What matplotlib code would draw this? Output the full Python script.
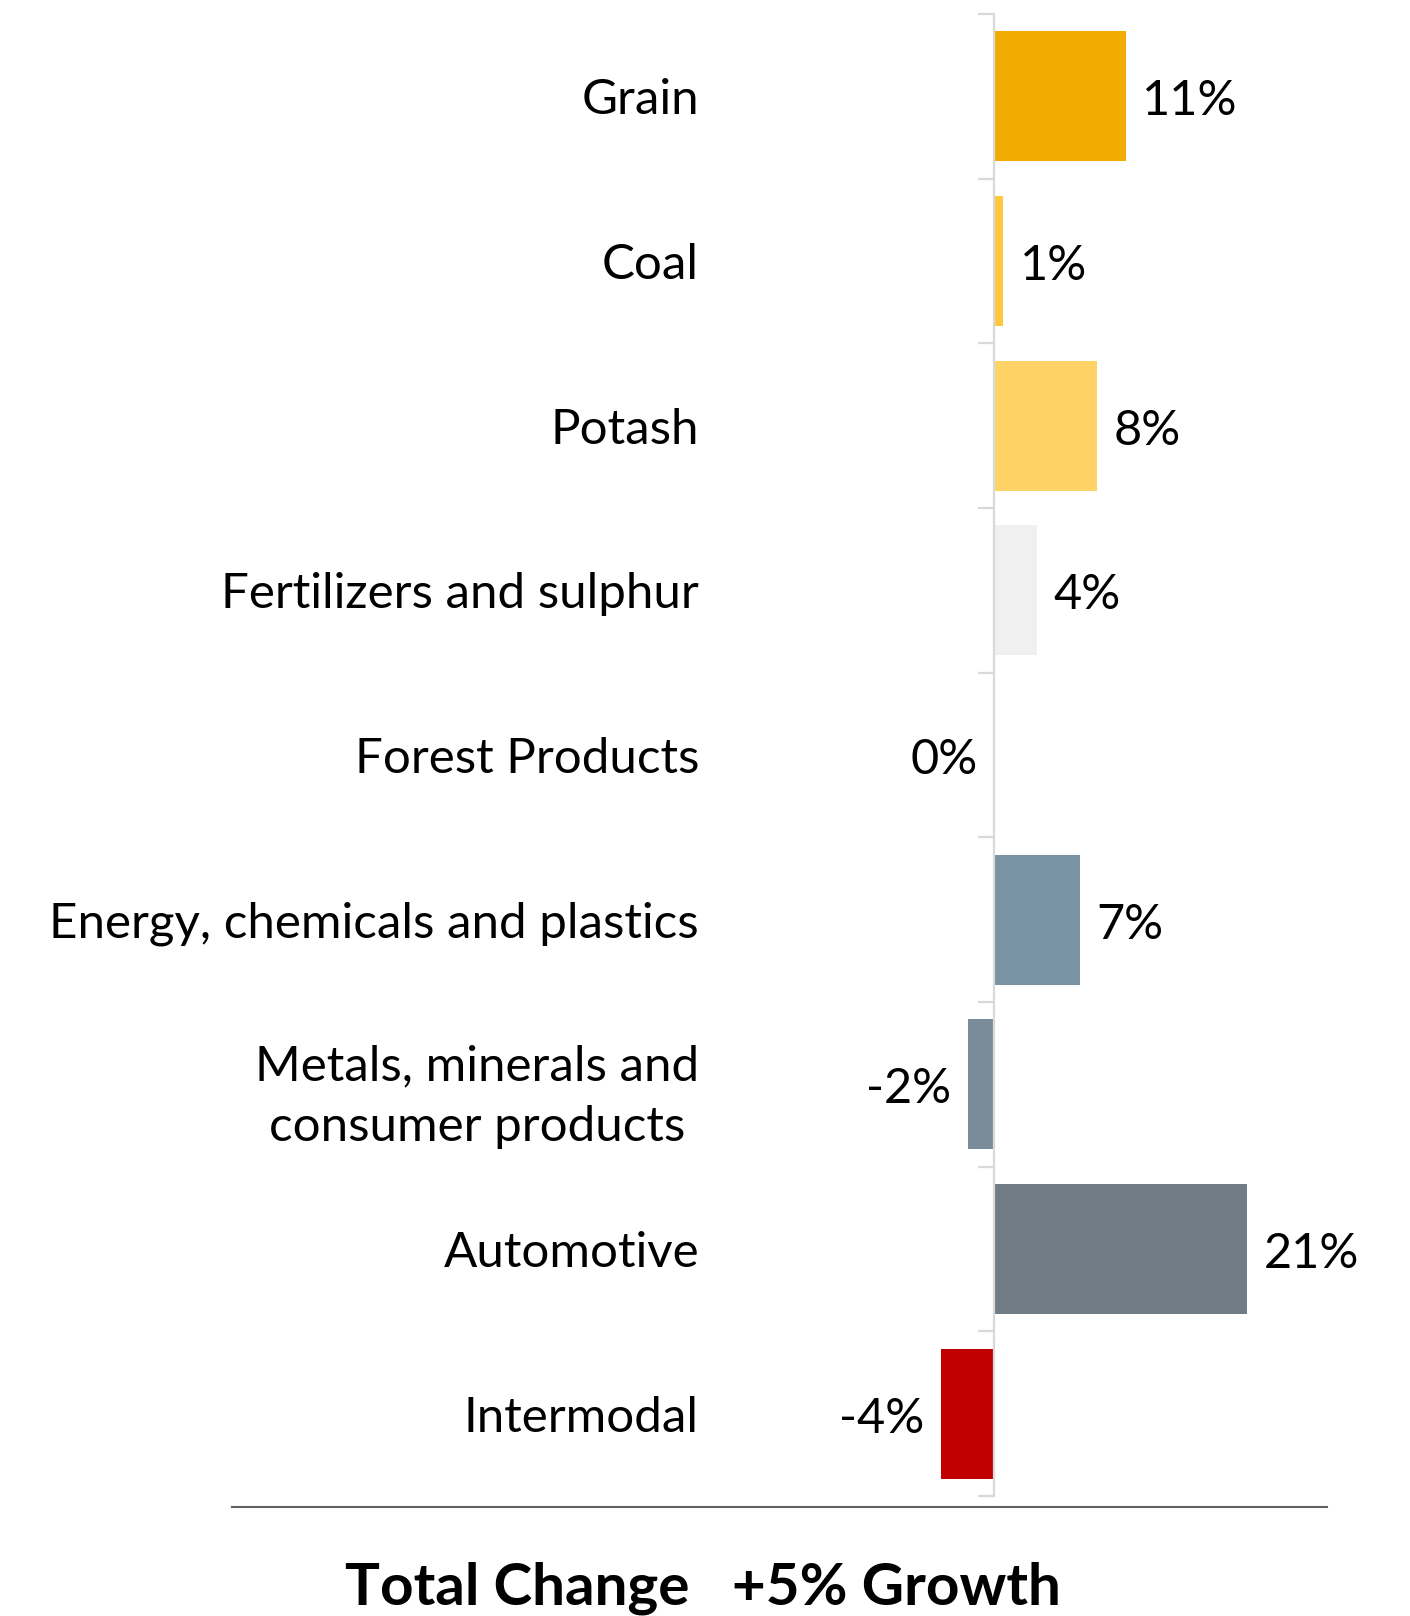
import numpy as np
import matplotlib
matplotlib.use('Agg')
import matplotlib.pyplot as plt
from matplotlib.ticker import FixedLocator

# Dados
categorias = ['Grain', 'Coal', 'Potash', 'Fertilizers and sulphur', 'Forest Products',
              'Energy, chemicals and plastics', 'Metals, minerals and\nconsumer products',
              'Automotive', 'Intermodal']
valores = [10.7, 0.75, 8.4, 3.5, 0.0, 7.0, -2.1, 20.6, -4.3]
rotulos = ['11%', '1%', '8%', '4%', '0%', '7%', '-2%', '21%', '-4%']
cores = ['#F2AB00', '#FFC83D', '#FFD265', '#F0F0F0', '#FFFFFF',
         '#7A93A4', '#7A8C99', '#707D86', '#C00000']
total_txt = 'Total Change   +5% Growth'

plt.rcParams['font.family'] = ['Lato', 'DejaVu Sans']

W, H = 1410, 1616
fig = plt.figure(figsize=(W / 100, H / 100), dpi=100)
ax = fig.add_axes([900 / W, 1 - 1496 / H, 500 / W, (1496 - 14) / H])

y = np.arange(len(categorias))
ax.barh(y, valores, height=0.79, color=cores, zorder=2)

ax.set_ylim(len(categorias) - 0.5, -0.5)
ax.set_xlim(-(994 - 900) / 12.3, (1400 - 994) / 12.3)

# Eixo vertical no zero, estilo Excel
for s in ['top', 'right', 'bottom']:
    ax.spines[s].set_visible(False)
ax.spines['left'].set_position(('data', 0))
ax.spines['left'].set_color('#D9D9D9')
ax.spines['left'].set_linewidth(1.6)
ax.spines['left'].set_zorder(3)
ax.set_xticks([])

ax.yaxis.set_major_locator(FixedLocator(y))
ax.set_yticklabels(categorias, fontsize=35.5, multialignment='center', linespacing=1.45)
ax.yaxis.set_minor_locator(FixedLocator(np.arange(len(categorias) + 1) - 0.5))
ax.tick_params(axis='y', which='major', length=0, pad=(994 - 699) * 0.72)
ax.tick_params(axis='y', which='minor', length=11.5, width=1.6, color='#D9D9D9')

# Rótulos de valor
for yi, v, r in zip(y, valores, rotulos):
    if v > 0:
        ax.annotate(r, (v, yi), xytext=(12, -3.5), textcoords='offset points',
                    ha='left', va='center', fontsize=35)
    else:
        ax.annotate(r, (min(v, 0), yi), xytext=(-12, -3.5), textcoords='offset points',
                    ha='right', va='center', fontsize=35)

# Linha inferior e total
fig.add_artist(plt.Line2D([232 / W, 1327 / W], [1 - 1507 / H, 1 - 1507 / H],
                          color='#606060', lw=1.5))
fig.text(703 / W, 1 - 1588 / H, total_txt, ha='center', va='center',
         fontsize=42, fontweight='bold')

fig.savefig('out.png', dpi=100)
